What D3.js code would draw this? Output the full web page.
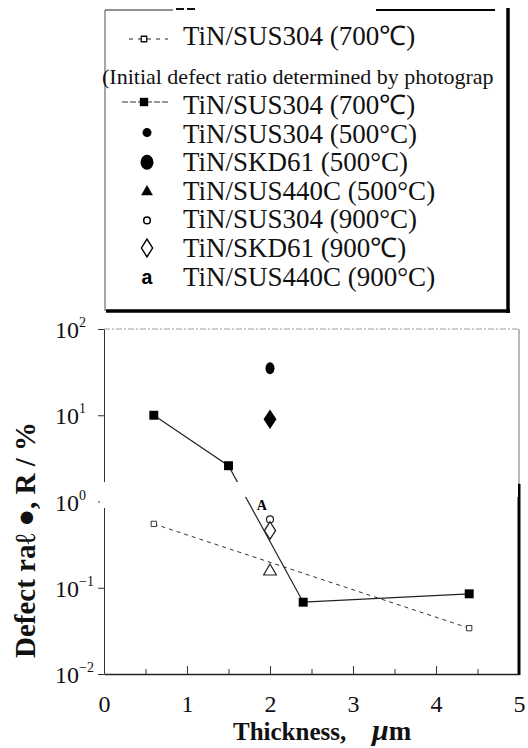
<!DOCTYPE html>
<html><head><meta charset="utf-8">
<script src="https://cdn.jsdelivr.net/npm/d3@7"></script>
<style>
html,body{margin:0;padding:0;background:#fff;}
svg{display:block;font-family:"Liberation Serif","Times New Roman",serif;}
</style></head>
<body><svg id="c" width="528" height="748"></svg>
<script>
// ---- data ----
const legendLabels = [
  "TiN/SUS304 (700\u2103)",
  "(Initial defect ratio determined by photograp",
  "TiN/SUS304 (700\u2103)",
  "TiN/SUS304 (500\u00b0C)",
  "TiN/SKD61 (500\u00b0C)",
  "TiN/SUS440C (500\u00b0C)",
  "TiN/SUS304 (900\u00b0C)",
  "TiN/SKD61 (900\u2103)",
  "TiN/SUS440C (900\u00b0C)"
];
const thickSolid = [0.6, 1.5, 2.4, 4.4];
const ratioSolid = [10, 2.6, 0.068, 0.085];
const thickDashed = [0.6, 4.4];
const ratioDashed = [0.55, 0.034];
const singleNames = ["SUS304 500", "SKD61 500", "SUS440C 900", "SUS304 900", "SKD61 900", "SUS440C 500"];
const singleThick = [2.0, 2.0, 1.9, 2.0, 2.0, 2.0];
const singleRatio = [35, 9, 0.9, 0.62, 0.46, 0.155];
const xTickLabels = ["0", "1", "2", "3", "4", "5"];
const yTickValues = [100, 10, 1, 0.1, 0.01];
const yTickExps = ["2", "1", "0", "\u22121", "\u22122"];

const svg = d3.select("#c");
const x = d3.scaleLinear().domain([0, 5]).range([104, 519]);
const y = d3.scaleLog().domain([0.01, 100]).range([674, 329]);

// ---- legend box ----
const L = svg.append("g");
L.append("line").attr("x1",105).attr("y1",10).attr("x2",105).attr("y2",311).attr("stroke","#888").attr("stroke-width",1.5);
L.append("line").attr("x1",105).attr("y1",10).attr("x2",173).attr("y2",10).attr("stroke","#222").attr("stroke-width",1);
L.append("line").attr("x1",176).attr("y1",9).attr("x2",198).attr("y2",9).attr("stroke","#111").attr("stroke-width",2).attr("stroke-dasharray","8,3");
L.append("line").attr("x1",376).attr("y1",10).attr("x2",495).attr("y2",10).attr("stroke","#000").attr("stroke-width",2);
L.append("line").attr("x1",508).attr("y1",8).attr("x2",508).attr("y2",313).attr("stroke","#000").attr("stroke-width",3.5);
L.append("line").attr("x1",106).attr("y1",311).attr("x2",510).attr("y2",311).attr("stroke","#000").attr("stroke-width",3.5);

const rowY = [45, 84, 114, 142.6, 171.2, 199.8, 228.4, 257, 285.6];
legendLabels.forEach((t, i) => {
  const small = i === 1;
  L.append("text").attr("x", small ? 102 : 183).attr("y", rowY[i])
    .attr("font-size", small ? 22 : 27).attr("fill", "#111").text(t);
});
const sx = 147;
const sym = (type, size) => d3.symbol().type(type).size(size)();
L.append("line").attr("x1",129).attr("x2",168).attr("y1",rowY[0]-6).attr("y2",rowY[0]-6).attr("stroke","#222").attr("stroke-width",1.2).attr("stroke-dasharray","4,5");
L.append("path").attr("d", sym(d3.symbolSquare, 30)).attr("transform",`translate(${sx-3},${rowY[0]-6})`).attr("fill","#fff").attr("stroke","#111").attr("stroke-width",1.3);
L.append("line").attr("x1",122).attr("x2",170).attr("y1",rowY[2]-12).attr("y2",rowY[2]-12).attr("stroke","#333").attr("stroke-width",1).attr("stroke-dasharray","6,2");
L.append("path").attr("d", sym(d3.symbolSquare, 70)).attr("transform",`translate(${sx-3},${rowY[2]-12})`).attr("fill","#000");
L.append("circle").attr("cx",sx).attr("cy",rowY[3]-10).attr("r",4.5).attr("fill","#000");
L.append("ellipse").attr("cx",sx).attr("cy",rowY[4]-9).attr("rx",6.5).attr("ry",7.5).attr("fill","#000");
L.append("path").attr("d", sym(d3.symbolTriangle, 60)).attr("transform",`translate(${sx},${rowY[5]-8})`).attr("fill","#000");
L.append("circle").attr("cx",sx).attr("cy",rowY[6]-8).attr("r",3.3).attr("fill","#fff").attr("stroke","#000").attr("stroke-width",1.5);
L.append("path").attr("d", sym(d3.symbolDiamond, 90)).attr("transform",`translate(${sx},${rowY[7]-9}) scale(1.1,1)`).attr("fill","#fff").attr("stroke","#000").attr("stroke-width",1.3);
L.append("text").attr("x",sx).attr("y",rowY[8]-2).attr("text-anchor","middle").attr("font-family","'Liberation Mono','DejaVu Sans Mono',monospace").attr("font-weight","bold").attr("font-size",20).text("a");

// ---- plot frame ----
const P = svg.append("g");
P.append("line").attr("x1",104).attr("x2",519).attr("y1",329).attr("y2",329).attr("stroke","#999").attr("stroke-width",1).attr("stroke-dasharray","6,2,2,2");
P.append("line").attr("x1",519).attr("x2",519).attr("y1",329).attr("y2",484).attr("stroke","#777").attr("stroke-width",1);
P.append("line").attr("x1",519).attr("x2",519).attr("y1",484).attr("y2",675).attr("stroke","#000").attr("stroke-width",3);
P.append("line").attr("x1",512).attr("x2",519).attr("y1",484).attr("y2",484).attr("stroke","#000").attr("stroke-width",1);

const yAxis = d3.axisLeft(y).tickValues(yTickValues).tickSize(6).tickSizeOuter(0).tickFormat("");
const gy = P.append("g").attr("transform","translate(104,0)").call(yAxis);
gy.selectAll("line,path").attr("stroke","#333");
const xMinor = d3.axisBottom(x).tickValues(d3.range(0.5, 5, 0.5)).tickSize(-5).tickSizeOuter(0).tickFormat("");
const gx = P.append("g").attr("transform","translate(0,674)").call(xMinor);
gx.select("path").attr("stroke","#222").attr("stroke-width",1.5);
gx.selectAll(".tick line").attr("stroke","#333").attr("y2", d => Number.isInteger(d) ? -8 : -5);
const xLab = d3.axisBottom(x).tickValues(d3.range(0, 6, 1)).tickSize(0).tickPadding(21).tickFormat((d, i) => xTickLabels[i]);
const gxl = P.append("g").attr("transform","translate(0,674)").call(xLab);
gxl.select("path").remove();
gxl.selectAll("text").attr("font-size",24).attr("font-family","'Liberation Serif',serif").attr("fill","#111");

const lineGen = d3.line().x(d => x(d[0])).y(d => y(d[1]));
P.append("path").datum(d3.zip(thickSolid, ratioSolid)).attr("d", lineGen).attr("fill","none").attr("stroke","#222").attr("stroke-width",1.2);
P.append("path").datum(d3.zip(thickDashed, ratioDashed)).attr("d", lineGen).attr("fill","none").attr("stroke","#333").attr("stroke-width",1).attr("stroke-dasharray","4,4");

// scan gap band
svg.append("rect").attr("x",95).attr("y",482).attr("width",423).attr("height",15).attr("fill","#fff");
svg.append("rect").attr("x",100).attr("y",496).attr("width",8).attr("height",12).attr("fill","#fff");

P.selectAll(".fsq").data(d3.zip(thickSolid, ratioSolid)).join("path")
  .attr("d", sym(d3.symbolSquare, 80)).attr("transform", d => `translate(${x(d[0])},${y(d[1])})`).attr("fill","#000");
P.selectAll(".osq").data(d3.zip(thickDashed, ratioDashed)).join("path")
  .attr("d", sym(d3.symbolSquare, 28)).attr("transform", d => `translate(${x(d[0])},${y(d[1])})`).attr("fill","#fff").attr("stroke","#333").attr("stroke-width",1);
d3.zip(singleNames, singleThick, singleRatio).forEach(([n, t, r]) => {
  const cx = x(t), cy = y(r);
  if (n === "SUS304 500") P.append("ellipse").attr("cx",cx).attr("cy",cy).attr("rx",4.5).attr("ry",6).attr("fill","#000");
  else if (n === "SKD61 500") P.append("path").attr("d", sym(d3.symbolDiamond, 110)).attr("transform",`translate(${cx},${cy}) scale(1.15,1)`).attr("fill","#000");
  else if (n === "SUS440C 900") P.append("text").attr("x",cx).attr("y",cy+5).attr("text-anchor","middle").attr("font-weight","bold").attr("font-size",14).attr("font-family","'Liberation Serif',serif").text("A");
  else if (n === "SUS304 900") P.append("circle").attr("cx",cx).attr("cy",cy).attr("r",3.5).attr("fill","#fff").attr("stroke","#222").attr("stroke-width",1.2);
  else if (n === "SKD61 900") P.append("path").attr("d", sym(d3.symbolDiamond, 90)).attr("transform",`translate(${cx},${cy}) scale(1.1,1)`).attr("fill","#fff").attr("stroke","#222").attr("stroke-width",1.2);
  else P.append("path").attr("d", sym(d3.symbolTriangle, 70)).attr("transform",`translate(${cx},${cy})`).attr("fill","#fff").attr("stroke","#222").attr("stroke-width",1.2);
});

// y tick labels
const yl = svg.append("g");
yTickValues.forEach((v, i) => {
  const t = yl.append("text").attr("x",55).attr("y", y(v) + 9).attr("font-size",24).attr("fill","#111");
  t.append("tspan").text("10");
  t.append("tspan").attr("font-size",14).attr("dy",-11).text(yTickExps[i]);
});

// axis titles
const xt = svg.append("text").attr("y",740).attr("font-weight","bold").attr("font-size",25).attr("fill","#111");
xt.append("tspan").attr("x",233).text("Thickness,");
xt.append("tspan").attr("x",372).attr("font-style","italic").attr("font-size",30).text("\u03bc");
xt.append("tspan").attr("font-size",27).text("m");
svg.append("text").attr("transform","translate(35,540) rotate(-90)").attr("text-anchor","middle").attr("font-weight","bold").attr("font-size",29).attr("fill","#111")
  .text("Defect ra\u2113 \u25cf, R / %");
</script></body></html>
